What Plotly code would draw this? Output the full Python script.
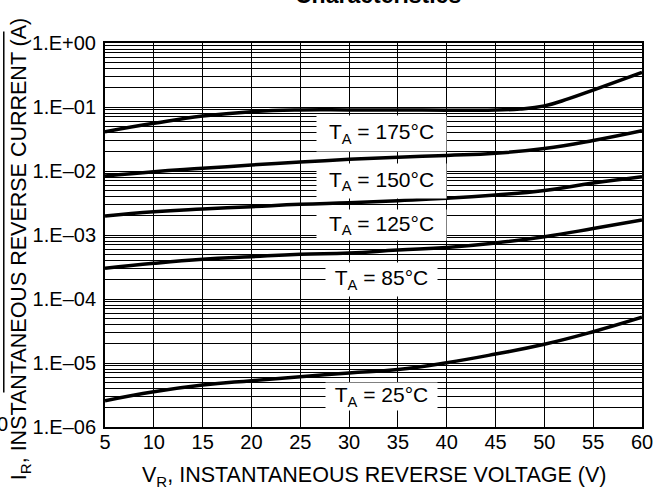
import plotly.graph_objects as go

# ---- data ----
v_175 = [5, 10, 15, 20, 25, 30, 35, 40, 45, 47.5, 50, 52.5, 55, 60]
i_175 = [0.0411, 0.0556, 0.0723, 0.0845, 0.0898, 0.0900, 0.0900, 0.0890, 0.0900,
         0.0930, 0.104, 0.135, 0.184, 0.348]

v_std = [5, 10, 15, 20, 25, 30, 35, 40, 45, 50, 55, 60]
i_150 = [0.00836, 0.00975, 0.0110, 0.0124, 0.0138, 0.0152, 0.0164, 0.0175,
         0.0189, 0.0225, 0.0300, 0.0426]
i_125 = [0.00198, 0.00231, 0.00255, 0.00277, 0.00302, 0.00320, 0.00344,
         0.00374, 0.00422, 0.00496, 0.00649, 0.00815]
i_85 = [0.000302, 0.000361, 0.000417, 0.000458, 0.000499, 0.000523, 0.000583,
        0.000638, 0.000750, 0.000940, 0.00126, 0.00172]
i_25 = [2.58e-6, 3.56e-6, 4.53e-6, 5.29e-6, 6.11e-6, 6.98e-6, 7.91e-6,
        1.01e-5, 1.38e-5, 1.96e-5, 3.08e-5, 5.18e-5]

x_ticks = [5, 10, 15, 20, 25, 30, 35, 40, 45, 50, 55, 60]
y_tickvals = [1e-6, 1e-5, 1e-4, 1e-3, 1e-2, 1e-1, 1e0]
y_ticktext = ["1.E–06", "1.E–05", "1.E–04", "1.E–03", "1.E–02", "1.E–01", "1.E+00"]
y_minor = [m * 10.0 ** e for e in range(-6, 0) for m in range(2, 10)]

labels = ["T<sub>A</sub> = 175°C", "T<sub>A</sub> = 150°C", "T<sub>A</sub> = 125°C",
          "T<sub>A</sub> = 85°C", "T<sub>A</sub> = 25°C"]
label_x = [33.3, 33.3, 33.3, 33.3, 33.3]
label_logy = [-1.41, -2.15, -2.84, -3.69, -5.53]
label_w = [129, 129, 129, 111, 111]
label_h = [35, 34, 30, 33, 27]

FONT = "Liberation Sans, Arial, sans-serif"

fig = go.Figure()
series = [(v_175, i_175), (v_std, i_150), (v_std, i_125), (v_std, i_85), (v_std, i_25)]
for vx, iy in series:
    fig.add_trace(go.Scatter(x=vx, y=iy, mode="lines",
                             line=dict(color="black", width=3.5, shape="spline", smoothing=1.3),
                             showlegend=False, hoverinfo="skip"))

annotations = []
for t, ax, ay, w, h in zip(labels, label_x, label_logy, label_w, label_h):
    annotations.append(dict(x=ax, y=ay, xref="x", yref="y", text=t, showarrow=False,
                            bgcolor="white", width=w, height=h, borderpad=0,
                            font=dict(family=FONT, size=21, color="black")))

# axis titles
annotations.append(dict(xref="paper", yref="paper", x=0.5, y=-0.089, yanchor="top",
                        text="V<sub>R</sub>, INSTANTANEOUS REVERSE VOLTAGE (V)", showarrow=False,
                        font=dict(family=FONT, size=21.5, color="black")))
annotations.append(dict(xref="paper", yref="paper", x=-0.158, y=0.4635, xanchor="center",
                        yanchor="middle", textangle=-90,
                        text="I<sub>R</sub>, INSTANTANEOUS REVERSE CURRENT (A)", showarrow=False,
                        font=dict(family=FONT, size=21.5, color="black")))
# title (cut off at top in reference)
annotations.append(dict(xref="paper", yref="paper", x=0.5, y=1.0, yanchor="bottom",
                        yshift=33, xshift=4, text="<b>Characteristics</b>", showarrow=False,
                        font=dict(family=FONT, size=23, color="black")))
# stray neighbouring-chart remnant at the far left
annotations.append(dict(xref="paper", yref="paper", x=-0.19, y=0.008, xanchor="center",
                        yanchor="middle", text="0", showarrow=False,
                        font=dict(family=FONT, size=20, color="black")))

fig.update_layout(
    width=663, height=496,
    margin=dict(l=105, r=10, t=43, b=69),
    paper_bgcolor="white", plot_bgcolor="white",
    font=dict(family=FONT, size=20, color="black"),
    annotations=annotations,
    shapes=[dict(type="line", xref="paper", yref="paper", x0=-0.1885, x1=-0.1885,
                 y0=0.09, y1=1.03, line=dict(color="black", width=1.5))],
)
fig.update_xaxes(range=[5, 60], tickvals=x_ticks, ticks="", showgrid=True,
                 gridcolor="black", gridwidth=1, showline=True, linecolor="black",
                 linewidth=2, mirror=True, zeroline=False, ticklabelstandoff=-4,
                 tickfont=dict(family=FONT, size=20, color="black"))
fig.update_yaxes(type="log", range=[-6, 0], tickvals=y_tickvals, ticktext=y_ticktext,
                 ticks="", showgrid=True, gridcolor="black", gridwidth=1,
                 showline=True, linecolor="black", linewidth=2, mirror=True,
                 zeroline=False, ticklabelstandoff=3,
                 minor=dict(tickvals=y_minor, showgrid=True, gridcolor="black",
                            gridwidth=1, ticks=""),
                 tickfont=dict(family=FONT, size=20, color="black"))

fig.write_html("out.html", config={"displayModeBar": False},
               post_script="document.body.style.margin='0';document.body.style.padding='0';")
